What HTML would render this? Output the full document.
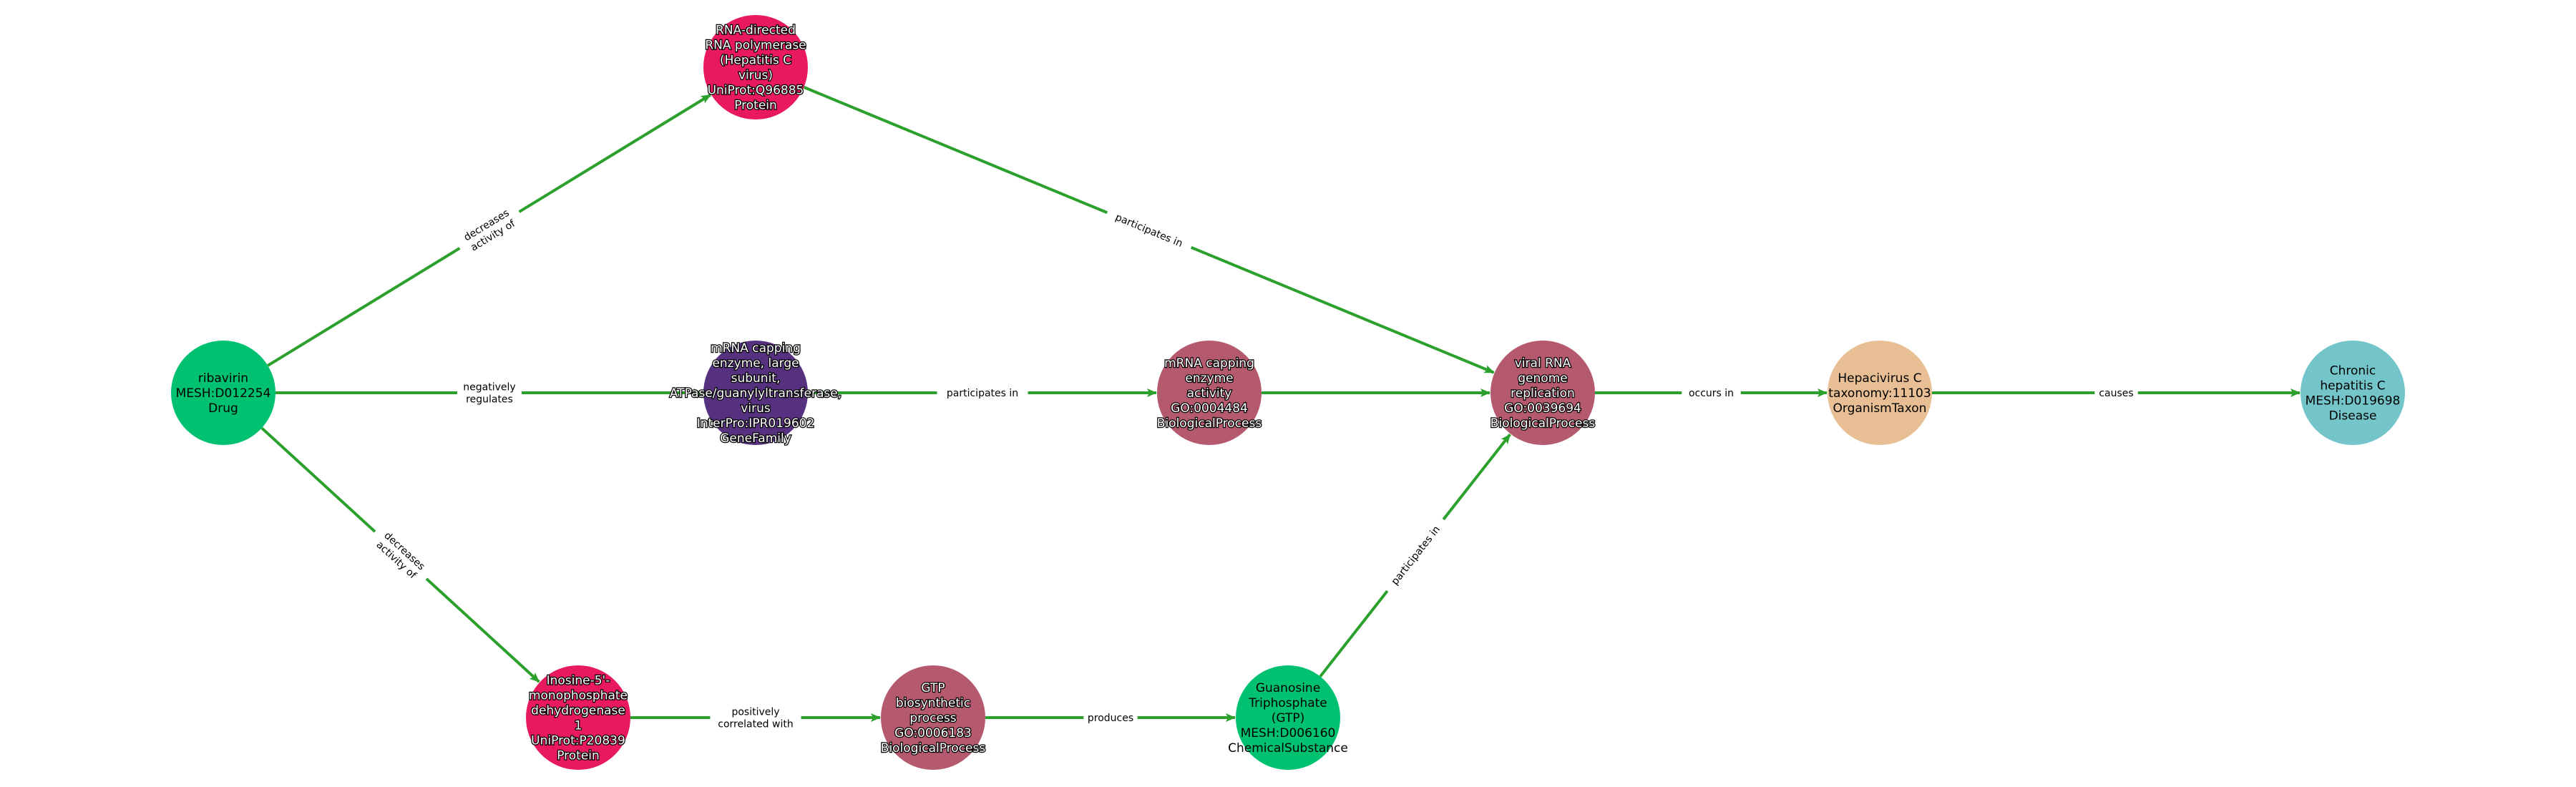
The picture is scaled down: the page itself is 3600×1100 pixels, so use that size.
<!DOCTYPE html>
<html><head><meta charset="utf-8"><style>
html,body{margin:0;padding:0;background:#fff;width:3600px;height:1100px;overflow:hidden}
svg text{font-family:"DejaVu Sans","Liberation Sans",sans-serif}
</style></head><body>
<svg id="s" width="3600" height="1100" xmlns="http://www.w3.org/2000/svg"></svg>
<script>
const R=73;
const N={
rib:[312,549,'#00c170',['ribavirin','MESH:D012254','Drug'],0],
pol:[1056,94,'#e8195f',['RNA-directed','RNA polymerase','(Hepatitis C','virus)','UniProt:Q96885','Protein'],1],
gf:[1056,549,'#56317f',['mRNA capping','enzyme, large','subunit,','ATPase/guanylyltransferase,','virus','InterPro:IPR019602','GeneFamily'],1],
act:[1690,549,'#b5596e',['mRNA capping','enzyme','activity','GO:0004484','BiologicalProcess'],1],
vir:[2156,549,'#b5596e',['viral RNA','genome','replication','GO:0039694','BiologicalProcess'],1],
hep:[2627,549,'#e8bf94',['Hepacivirus C','taxonomy:11103','OrganismTaxon'],0],
chr:[3288,549,'#73c5c9',['Chronic','hepatitis C','MESH:D019698','Disease'],0],
ino:[808,1003,'#e8195f',['Inosine-5\'-','monophosphate','dehydrogenase','1','UniProt:P20839','Protein'],1],
gtp:[1304,1003,'#b5596e',['GTP','biosynthetic','process','GO:0006183','BiologicalProcess'],1],
gua:[1800,1003,'#00c170',['Guanosine','Triphosphate','(GTP)','MESH:D006160','ChemicalSubstance'],0]
};
const E=[
['rib','pol',['decreases','activity of']],
['rib','gf',['negatively','regulates']],
['rib','ino',['decreases','activity of']],
['gf','act',['participates in']],
['pol','vir',['participates in']],
['act','vir',[]],
['vir','hep',['occurs in']],
['hep','chr',['causes']],
['ino','gtp',['positively','correlated with']],
['gtp','gua',['produces']],
['gua','vir',['participates in']]
];
let h='<defs><marker id="a" markerWidth="14" markerHeight="12" refX="13" refY="6" orient="auto" markerUnits="userSpaceOnUse"><path d="M0,0 L14,6 L0,12 L3,6 z" fill="#2ca02c"/></marker></defs>';
let labels='';
for(const [a,b,l] of E){
 const [x1,y1]=N[a],[x2,y2]=N[b];
 const dx=x2-x1,dy=y2-y1,d=Math.hypot(dx,dy),ux=dx/d,uy=dy/d;
 const sx=x1+ux*R,sy=y1+uy*R,ex=x2-ux*(R+1),ey=y2-uy*(R+1);
 h+=`<line x1="${sx}" y1="${sy}" x2="${ex}" y2="${ey}" stroke="#2ca02c" stroke-width="4" marker-end="url(#a)"/>`;
 if(l.length){
  const mx=(x1+x2)/2,my=(y1+y2)/2;
  let ang=Math.atan2(dy,dx)*180/Math.PI; if(ang>90)ang-=180; if(ang<-90)ang+=180;
  const lh=17,w=Math.max(...l.map(s=>s.length))*7.4+16,hh=l.length*lh+2;
  labels+=`<g transform="translate(${mx},${my}) rotate(${ang})"><rect x="${-w/2}" y="${-hh/2}" width="${w}" height="${hh}" fill="#fff"/>`;
  l.forEach((s,i)=>{labels+=`<text x="0" y="${(i-(l.length-1)/2)*lh+5}" font-size="14" text-anchor="middle" fill="#000">${s}</text>`});
  labels+='</g>';
 }
}
h+=labels;
for(const k in N){
 const [x,y,c,t,o]=N[k];
 h+=`<circle cx="${x}" cy="${y}" r="${R}" fill="${c}"/>`;
 const lh=21;
 t.forEach((s,i)=>{
  const ty=y+(i-(t.length-1)/2)*lh+6;
  if(o) h+=`<text x="${x}" y="${ty}" font-size="17" text-anchor="middle" fill="#fff" stroke="#000" stroke-width="2.5" paint-order="stroke">${s}</text>`;
  else h+=`<text x="${x}" y="${ty}" font-size="17" text-anchor="middle" fill="#000">${s}</text>`;
 });
}
document.getElementById('s').innerHTML=h;
</script>
</body></html>
